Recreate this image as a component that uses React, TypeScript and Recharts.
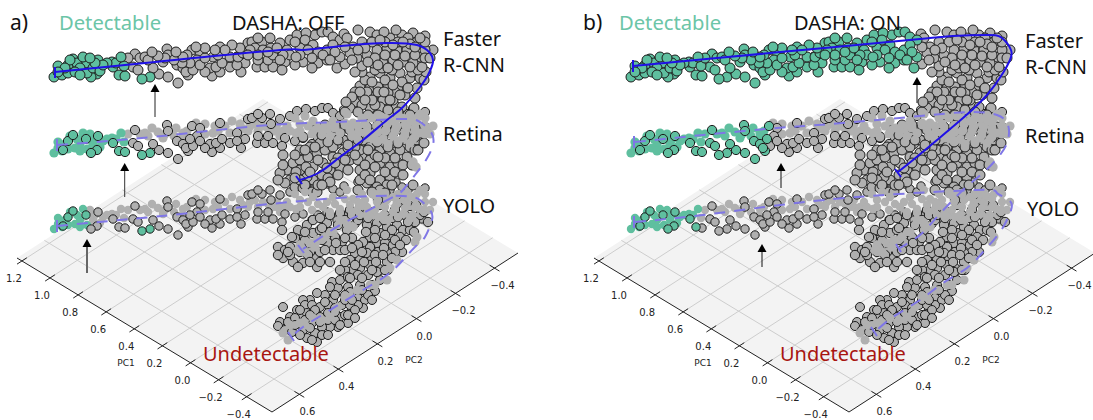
import { Scatter, ScatterChart, XAxis, YAxis, Curve } from 'recharts'

type Pt = number[]

// Upper strip of the cloud, read on the Faster R-CNN level. Retina and YOLO repeat it lower down.
const bandOuter: Pt[] = [
  [63,74],[68,65],[73,59],[86,63],[98,60],[97,74],[91,77],[119,75],[125,76],[135,54],[150,77],[142,79],[159,74],[168,77],[178,83],
  [167,49],[168,55],[188,75],[177,65],[183,68],[192,50],[200,52],[197,60],[212,76],[210,68],[220,72],[220,47],[237,57],[248,43],
  [252,42],[262,42],[257,67],[265,67],[273,67],[245,63],[303,62],[318,63],[337,68],[355,72],[280,43],[290,40],[297,35],[315,35],
  [322,32],[328,32],[333,37],[358,30],[370,32],[377,35],[390,38],[402,35],[413,33],[408,38],[422,67],[271,48],[306,33],[340,40],
  [230,67],[205,72],[285,62],[295,65],[327,60],[345,64],[362,66],[186,72],[193,70],[216,67],[241,72],[258,38],[282,70],[312,68],
  [270,38],[344,34],[384,32],[396,30],[425,36],[133,67],[138,70],[153,68],[190,63],[200,65],[222,63],[237,65],[113,67],[268,60],[258,60],
]
const bandCore: Pt[] = [
  [54,77],[58,66],[62,75],[77,63],[80,68],[83,57],[87,73],[93,68],[100,71],[68,73],[75,72],[80,75],[112,62],[116,63],[124,66],
  [140,58],[145,57],[148,60],[163,62],[182,63],[187,55],[213,57],[230,57],[238,57],
  [255,48],[263,50],[250,50],[277,55],[273,55],[305,40],[347,38],[353,47],[377,50],[387,48],[397,50],[407,50],[417,42],[420,57],
  [367,55],[357,58],[350,53],[340,57],[327,50],[313,45],[300,48],[287,50],[290,55],[373,63],[383,63],[393,60],[403,62],[413,63],[433,50],
  [205,58],[174,60],[218,55],[243,53],[258,55],[268,52],[308,50],[318,52],[333,45],[362,42],[372,42],[385,42],[398,42],[410,44],[425,50],
  [395,55],[405,56],[415,55],[425,58],[385,55],[375,58],[365,48],[380,40],[393,45],[403,42],[415,47],[425,42],[430,58],[420,38],[398,65],
  [410,67],[388,68],[378,65],[368,62],[358,50],[345,47],[335,52],[323,55],[312,58],[300,55],[295,42],[283,55],[277,48],
  [248,55],[240,48],[232,45],[225,50],[215,50],[205,48],[196,47],[183,57],[176,52],[165,58],[158,56],[152,52],[128,58],[121,57],[107,63],
  [103,65],[95,63],[90,58],[70,60],[65,68],[58,72],[280,60],[296,57],[330,60],[352,60],
]
// Part of the cloud that bends back down from the band, one list per level.
const hookFaster: Pt[] = [
  [370,77],[380,73],[390,78],[400,73],[410,78],[417,88],[360,86],[370,88],[378,87],[388,85],[398,87],[405,95],[355,102],[363,97],[373,97],
  [383,100],[393,100],[350,108],[370,108],[380,107],[402,107],[414,108],[375,70],[385,80],[365,80],[395,92],[375,105],[362,105],[388,93],
  [378,92],[367,92],[355,92],[303,137],[283,155],[287,170],[293,163],[300,160],[308,157],[317,153],[325,150],[333,147],[343,140],[353,137],
  [330,130],[340,133],[320,143],[310,147],[300,170],[290,180],[280,173],[285,183],[295,187],[303,188],[313,180],[322,175],[330,170],[340,167],
  [350,160],[313,167],[323,163],[333,157],[343,153],[307,177],[312,192],[317,192],[300,180],[360,170],[370,173],[380,180],[390,177],[362,157],
  [370,160],[380,163],[390,167],[398,163],[407,157],[370,147],[380,150],[390,153],[400,150],[410,147],[417,140],[422,133],[420,127],[410,123],
  [402,130],[393,133],[383,137],[373,133],[363,140],[360,150],[355,147],[357,130],[367,127],[378,125],[390,123],[410,133],[403,140],[393,143],
  [385,143],[377,142],[387,185],[377,187],[367,183],[360,180],[413,185],[296,172],[306,167],[318,160],[328,178],[338,158],[348,148],[415,150],
  [358,160],[365,165],[375,155],[385,158],[395,158],[403,165],[412,165],[418,150],[424,143],[426,128],[415,128],[405,125],[396,128],[386,130],
  [378,132],[368,135],[361,133],[350,130],[345,125],[335,125],[325,125],[315,130],[322,135],[333,137],[348,145],[358,140],[368,150],[378,157],
  [388,147],[398,143],[405,135],[415,137],[365,175],[375,167],[385,172],[395,172],[403,175],[370,180],[380,190],[392,185],[372,192],[385,193],
  [300,150],[295,155],[305,150],[315,147],[328,142],[338,140],[283,165],[278,180],[295,178],[305,185],[310,172],[318,185],[327,168],[335,163],
  [345,160],[355,155],[348,170],[338,175],[330,182],[322,185],[358,190],[362,72],[372,82],[382,68],[392,70],[402,82],[412,72],[420,78],[408,88],
  [400,95],[390,100],[372,100],[360,92],[352,97],[345,112],[358,112],[368,115],[378,115],[388,110],[398,112],[410,115],[384,92],[393,85],[415,98],
  [424,80],[426,72],[418,70],[365,100],[346,102],
]
const hookRetina: Pt[] = [
  [278,247],[285,250],[283,258],[293,262],[290,247],[300,240],[298,230],[307,225],[305,240],[313,233],[320,230],[303,263],[315,258],[317,267],
  [320,252],[328,243],[342,242],[333,250],[340,250],[335,237],[347,230],[327,223],[313,220],[320,218],[330,215],[340,213],[350,210],[358,220],
  [282,230],[367,225],[377,223],[387,227],[397,225],[403,230],[410,230],[370,237],[380,233],[390,235],[400,237],[377,243],[385,243],[393,245],
  [402,252],[395,252],[387,253],[378,252],[370,247],[363,242],[358,245],[355,253],[350,260],[360,260],[367,253],[372,260],[378,268],[370,265],
  [360,268],[353,270],[345,270],[348,277],[358,275],[368,275],[377,272],[387,262],[380,205],[395,210],[405,215],[420,215],[385,215],[370,212],
  [360,208],[398,203],[410,206],[415,222],[392,218],[295,238],[302,248],[310,252],[322,240],[330,232],[338,225],[345,220],[352,215],[360,215],
  [368,218],[375,230],[384,220],[392,230],[398,217],[408,222],[414,232],[406,240],[395,240],[385,235],[375,238],[366,232],[352,238],[345,250],
  [352,248],[362,252],[375,255],[384,248],[392,258],[400,245],[385,270],[376,262],[364,262],[355,265],[345,262],[350,278],[340,270],[362,278],
  [372,270],[383,255],[300,252],[290,255],[278,255],[308,255],[325,250],[330,262],[320,262],[310,262],[298,267],[322,228],[336,243],[345,238],
  [305,232],[292,237],[288,252],[424,212],[428,222],[416,205],[388,197],[378,200],[404,200],
]
const hookYolo: Pt[] = [
  [332,282],[338,288],[330,287],[348,287],[358,298],[365,300],[375,291],[333,300],[325,295],[317,293],[310,300],[303,300],[305,305],[283,307],
  [297,310],[290,317],[280,322],[278,326],[288,322],[300,317],[307,313],[312,305],[320,307],[328,305],[335,308],[342,305],[350,313],[340,317],
  [348,323],[338,327],[330,327],[322,327],[315,333],[307,338],[303,330],[293,325],[312,323],[317,342],[320,317],[328,313],[363,308],[358,305],[350,305],
  [340,280],[350,292],[360,285],[372,285],[380,270],[345,300],[355,310],[368,295],[380,280],[388,270],[345,295],[335,295],[325,302],[315,310],[305,320],
  [295,318],[285,330],[292,332],[300,335],[310,328],[320,322],[328,320],[335,320],[345,315],[335,312],[352,300],[362,290],[372,300],[322,335],[312,340],
  [328,335],[340,325],[348,315],[355,318],[310,315],[300,310],[295,325],
]
// Hook points without an edge, they sit on the dashed curves.
const hookFadedRetina: Pt[] = [
  [413,162],[416,167],[300,245],[298,250],[310,243],[315,247],[325,237],[333,232],[347,223],[367,215],[353,227],[317,240],[305,252],[340,220],[360,205],[375,195],
]
const hookFadedYolo: Pt[] = [
  [290,325],[283,333],[288,340],[300,323],[313,318],[330,317],[338,307],[345,297],[357,290],[370,285],[375,285],[387,280],[390,268],[397,260],[415,242],[417,237],[350,297],[322,320],[305,325],
]

const solidA: Pt[] = [[55,72],[155,62],[280,50],[303,50],[347,45.5],[387,43],[417,45],[430,53],[433,62],[428,75],[420,87],[403,107],[387,120],[363,140],[340,157],[320,172],[300,180]]
const retinaCurveA: Pt[] = [[57,145],[120,140],[190,133],[270,125],[337,122],[400,119],[420,122],[431,132],[433,145],[426,160],[415,175],[403,190],[393,197],[363,213],[340,225],[320,238],[303,249]]
const yoloCurveA: Pt[] = [[57,226],[120,220],[190,213],[270,204],[353,197],[403,196],[420,200],[430,210],[432,220],[425,237],[417,245],[403,260],[387,275],[363,290],[343,302],[327,312],[303,327],[292,337]]
const solidB: Pt[] = [[56,66],[140,58],[253,47.5],[343,39],[376,36],[410,35],[425,38],[434,50],[433,60],[426,73],[410,95],[386,118],[360,140],[336,160],[321,172]]
const retinaCurveB: Pt[] = [[58,142],[126,135],[200,128],[253,124],[343,116],[393,112],[420,115],[431,125],[431,140],[423,155],[406,173],[386,190],[360,217],[343,235],[323,248]]
const yoloCurveB: Pt[] = [[58,222],[126,215],[203,205],[293,196],[400,190],[420,193],[433,201],[433,213],[423,232],[406,252],[390,268],[366,283],[343,300],[316,317],[298,332]]

const pc1Ticks = [1.2, 1.0, 0.8, 0.6, 0.4, 0.2, 0.0, -0.2, -0.4]
const pc2Ticks = [0.6, 0.4, 0.2, 0.0, -0.2, -0.4]
const pc1Range = [1.235, -0.58]
const pc2Range = [0.74, -0.52]

const GREEN = '#5fbf9f'
const GRAY = '#b0b0b0'
const EDGE = '#1c1c1c'
const BLUE = '#1f10e6'
const WAVE = '#7f76e6'

function project(pc1: number, pc2: number) {
  const s = (pc1Range[0] - pc1) / (pc1Range[0] - pc1Range[1])
  const t = (pc2Range[0] - pc2) / (pc2Range[0] - pc2Range[1])
  const x = (1 - s) * (1 - t) * 17 + s * (1 - t) * 272 + s * t * 518 + (1 - s) * t * 263
  const y = (1 - s) * (1 - t) * 258 + s * (1 - t) * 412 + s * t * 253 + (1 - s) * t * 99
  return { x, y }
}

const rows = (pts: Pt[]) => pts.map(([x, y]) => ({ x, y }))
const fmt = (v: number) => v.toFixed(1).replace('-', '\u2212')

const dot = (r: number, fill: string, edged: boolean) => (p: any) => (
  <circle cx={p.cx} cy={p.cy} r={r} fill={fill} stroke={edged ? EDGE : 'none'} strokeWidth={1} />
)
const nothing = () => <g />
const arrowHead = (color: string) => (p: any) => (
  <polygon points={`${p.cx},${p.cy} ${p.cx - 4.5},${p.cy + 8} ${p.cx + 4.5},${p.cy + 8}`} fill={color} />
)
const word = (p: any) => (
  <text x={p.cx} y={p.cy} textAnchor={p.payload.anchor ?? 'start'} fontFamily={p.payload.font ?? 'Noto Sans'} fontSize={p.payload.size} fill={p.payload.color ?? '#111'}>
    {p.payload.text}
  </text>
)
const smooth = (p: any) => <Curve {...p} type="natural" />

function Series({ data, shape, axis = 'faster' }: any) {
  return <Scatter data={data} dataKey="y" yAxisId={axis} shape={shape} isAnimationActive={false} />
}

function segment(key: string, pts: any[], color: string, width: number) {
  return (
    <Scatter
      key={key}
      data={pts}
      yAxisId="faster"
      shape={nothing}
      line={{ stroke: color, strokeWidth: width }}
      isAnimationActive={false}
    />
  )
}

interface PanelProps {
  left: number
  width: number
  thresholds: { faster: number; retina: number; yolo: number }
  extraGreen: Pt[]
  solid: Pt[]
  retinaCurve: Pt[]
  yoloCurve: Pt[]
  endTicks: Pt[][]
  arrows: { x: number; tip: number; tail: number; color: string; w: number }[]
  words: { x: number; y: number; text: string; size: number; color?: string }[]
}

function Panel({ left, width, thresholds, extraGreen, solid, retinaCurve, yoloCurve, endTicks, arrows, words }: PanelProps) {
  const isExtra = (p: Pt) => extraGreen.some((e) => e[0] === p[0] && e[1] === p[1])
  const green = (pts: Pt[], limit: number) => rows(pts.filter((p) => p[0] < limit || isExtra(p)))
  const gray = (pts: Pt[], limit: number) => rows(pts.filter((p) => !(p[0] < limit || isExtra(p))))
  const allBand = [...bandOuter, ...bandCore]
  // left of the hook the faded points lie under the edged ones, over it they lie on top
  const coreLeft = bandCore.filter((p) => p[0] < 285)
  const coreRight = bandCore.filter((p) => p[0] >= 285)

  const floor = [
    project(pc1Range[0], pc2Range[0]),
    project(pc1Range[1], pc2Range[0]),
    project(pc1Range[1], pc2Range[1]),
    project(pc1Range[0], pc2Range[1]),
  ]
  const pc1Labels = pc1Ticks.map((v) => {
    const q = project(v, pc2Range[0])
    return { x: q.x - 8, y: q.y + 21, text: fmt(v), size: 10, anchor: 'middle', font: 'DejaVu Sans', color: '#222' }
  })
  const pc2Labels = pc2Ticks.map((v) => {
    const q = project(pc1Range[1], v)
    return { x: q.x + 8, y: q.y + 21, text: fmt(v), size: 10, anchor: 'middle', font: 'DejaVu Sans', color: '#222' }
  })
  const axisNames = [
    { x: 126, y: 366, text: 'PC1', size: 9, anchor: 'middle', font: 'DejaVu Sans', color: '#222' },
    { x: 414, y: 363, text: 'PC2', size: 9, anchor: 'middle', font: 'DejaVu Sans', color: '#222' },
  ]

  return (
    <div style={{ position: 'absolute', left, top: 0 }}>
      <ScatterChart width={width} height={420} margin={{ top: 0, right: 0, bottom: 0, left: 0 }}>
        <XAxis type="number" dataKey="x" domain={[0, width]} allowDataOverflow hide />
        <YAxis yAxisId="faster" type="number" dataKey="y" domain={[0, 420]} reversed allowDataOverflow hide />
        <YAxis yAxisId="retina" type="number" dataKey="y" domain={[-76, 344]} reversed allowDataOverflow hide />
        <YAxis yAxisId="yolo" type="number" dataKey="y" domain={[-152, 268]} reversed allowDataOverflow hide />

        <Scatter data={floor} yAxisId="faster" shape={nothing} line={{ stroke: 'none', fill: '#f3f3f3' }} isAnimationActive={false} />
        {pc1Ticks.map((v) => segment(`g1${v}`, [project(v, pc2Range[0]), project(v, pc2Range[1])], '#cdcdcd', 1))}
        {pc2Ticks.map((v) => segment(`g2${v}`, [project(pc1Range[0], v), project(pc1Range[1], v)], '#cdcdcd', 1))}
        {segment('a1', [floor[0], floor[1]], '#222', 1)}
        {segment('a2', [floor[1], floor[2]], '#222', 1)}
        {pc1Ticks.map((v) => segment(`t1${v}`, [project(v, pc2Range[0] + 0.025), project(v, pc2Range[0] - 0.025)], '#222', 1))}
        {pc2Ticks.map((v) => segment(`t2${v}`, [project(pc1Range[1] + 0.035, v), project(pc1Range[1] - 0.035, v)], '#222', 1))}

        {Series({ data: gray(coreLeft, thresholds.yolo), shape: dot(4.2, GRAY, false), axis: 'yolo' })}
        {Series({ data: green(coreLeft, thresholds.yolo), shape: dot(4.2, GREEN, false), axis: 'yolo' })}
        {Series({ data: gray(coreLeft, thresholds.retina), shape: dot(4.6, GRAY, false), axis: 'retina' })}
        {Series({ data: green(coreLeft, thresholds.retina), shape: dot(4.6, GREEN, false), axis: 'retina' })}

        {Series({ data: rows(hookYolo), shape: dot(4.5, GRAY, true) })}
        {Series({ data: gray(bandOuter, thresholds.yolo), shape: dot(4.2, GRAY, true), axis: 'yolo' })}
        {Series({ data: green(bandOuter, thresholds.yolo), shape: dot(4.2, GREEN, true), axis: 'yolo' })}
        {Series({ data: rows(hookRetina), shape: dot(4.7, GRAY, true) })}
        {Series({ data: gray(bandOuter, thresholds.retina), shape: dot(4.6, GRAY, true), axis: 'retina' })}
        {Series({ data: green(bandOuter, thresholds.retina), shape: dot(4.6, GREEN, true), axis: 'retina' })}
        {Series({ data: rows(hookFaster), shape: dot(5, GRAY, true) })}
        {Series({ data: gray(allBand, thresholds.faster), shape: dot(5, GRAY, true) })}
        {Series({ data: green(allBand, thresholds.faster), shape: dot(5, GREEN, true) })}

        {Series({ data: gray(coreRight, thresholds.yolo), shape: dot(4.2, GRAY, false), axis: 'yolo' })}
        {Series({ data: rows(hookFadedYolo), shape: dot(4.5, GRAY, false) })}
        {Series({ data: gray(coreRight, thresholds.retina), shape: dot(4.6, GRAY, false), axis: 'retina' })}
        {Series({ data: rows(hookFadedRetina), shape: dot(4.7, GRAY, false) })}

        <Scatter data={rows(yoloCurve)} yAxisId="faster" shape={nothing} line={(p: any) => <Curve {...p} type="natural" fill="none" stroke={WAVE} strokeWidth={2} strokeDasharray="11 9" />} isAnimationActive={false} />
        <Scatter data={rows(retinaCurve)} yAxisId="faster" shape={nothing} line={(p: any) => <Curve {...p} type="natural" fill="none" stroke={WAVE} strokeWidth={2} strokeDasharray="11 9" />} isAnimationActive={false} />
        <Scatter data={rows(solid)} yAxisId="faster" shape={nothing} line={(p: any) => smooth({ ...p, fill: 'none', stroke: BLUE, strokeWidth: 2 })} isAnimationActive={false} />
        {endTicks.map((t, i) => segment(`e${i}`, rows(t), i < 2 ? BLUE : WAVE, 2))}

        {arrows.map((a, i) => segment(`s${i}`, [{ x: a.x, y: a.tip + 6 }, { x: a.x, y: a.tail }], a.color, a.w))}
        <Scatter data={arrows.map((a) => ({ x: a.x, y: a.tip }))} yAxisId="faster" shape={arrowHead('#000')} isAnimationActive={false} />

        <Scatter data={[...pc1Labels, ...pc2Labels, ...axisNames, ...words]} yAxisId="faster" shape={word} isAnimationActive={false} />
      </ScatterChart>
    </div>
  )
}

const wordsA = [
  { x: 10, y: 30, text: 'a)', size: 21 },
  { x: 59, y: 30, text: 'Detectable', size: 20.2, color: '#6cc5a7' },
  { x: 232, y: 30, text: 'DASHA: OFF', size: 20 },
  { x: 443, y: 46, text: 'Faster', size: 20 },
  { x: 443, y: 72, text: 'R-CNN', size: 20 },
  { x: 443, y: 141, text: 'Retina', size: 20 },
  { x: 443, y: 213, text: 'YOLO', size: 20 },
  { x: 203, y: 361, text: 'Undetectable', size: 20, color: '#a81510' },
]
const wordsB = [
  { x: 6, y: 30, text: 'b)', size: 21 },
  { x: 42, y: 30, text: 'Detectable', size: 20.2, color: '#6cc5a7' },
  { x: 217, y: 30, text: 'DASHA: ON', size: 20 },
  { x: 448, y: 48, text: 'Faster', size: 20 },
  { x: 448, y: 74, text: 'R-CNN', size: 20 },
  { x: 448, y: 143, text: 'Retina', size: 20 },
  { x: 450, y: 216, text: 'YOLO', size: 20 },
  { x: 203, y: 361, text: 'Undetectable', size: 20, color: '#a81510' },
]

export default function App() {
  return (
    <div style={{ position: 'absolute', left: 0, top: 0, width: 1093, height: 420 }}>
      <Panel
        left={0}
        width={577}
        thresholds={{ faster: 128, retina: 128, yolo: 90 }}
        extraGreen={[[142, 79], [150, 77]]}
        solid={solidA}
        retinaCurve={retinaCurveA}
        yoloCurve={yoloCurveA}
        endTicks={[
          [[55, 67], [55, 78]],
          [[296, 176], [302, 184]],
          [[57, 139], [57, 151]],
          [[298, 245], [304, 253]],
          [[57, 220], [57, 232]],
          [[288, 332], [294, 341]],
        ]}
        arrows={[
          { x: 155, tip: 84, tail: 117, color: '#222', w: 1 },
          { x: 124.7, tip: 163, tail: 197, color: '#333', w: 1 },
          { x: 87, tip: 239, tail: 273, color: '#666', w: 2 },
        ]}
        words={wordsA}
      />
      <Panel
        left={577}
        width={516}
        thresholds={{ faster: 343, retina: 193, yolo: 123 }}
        extraGreen={[]}
        solid={solidB}
        retinaCurve={retinaCurveB}
        yoloCurve={yoloCurveB}
        endTicks={[
          [[56, 60], [56, 72]],
          [[318, 169], [324, 177]],
          [[57, 136], [57, 148]],
          [[319, 244], [324, 252]],
          [[57, 216], [57, 228]],
          [[294, 327], [300, 336]],
        ]}
        arrows={[
          { x: 340, tip: 77, tail: 103, color: '#111', w: 1 },
          { x: 204, tip: 163, tail: 188, color: '#111', w: 1 },
          { x: 185, tip: 244, tail: 267, color: '#111', w: 1 },
        ]}
        words={wordsB}
      />
    </div>
  )
}
